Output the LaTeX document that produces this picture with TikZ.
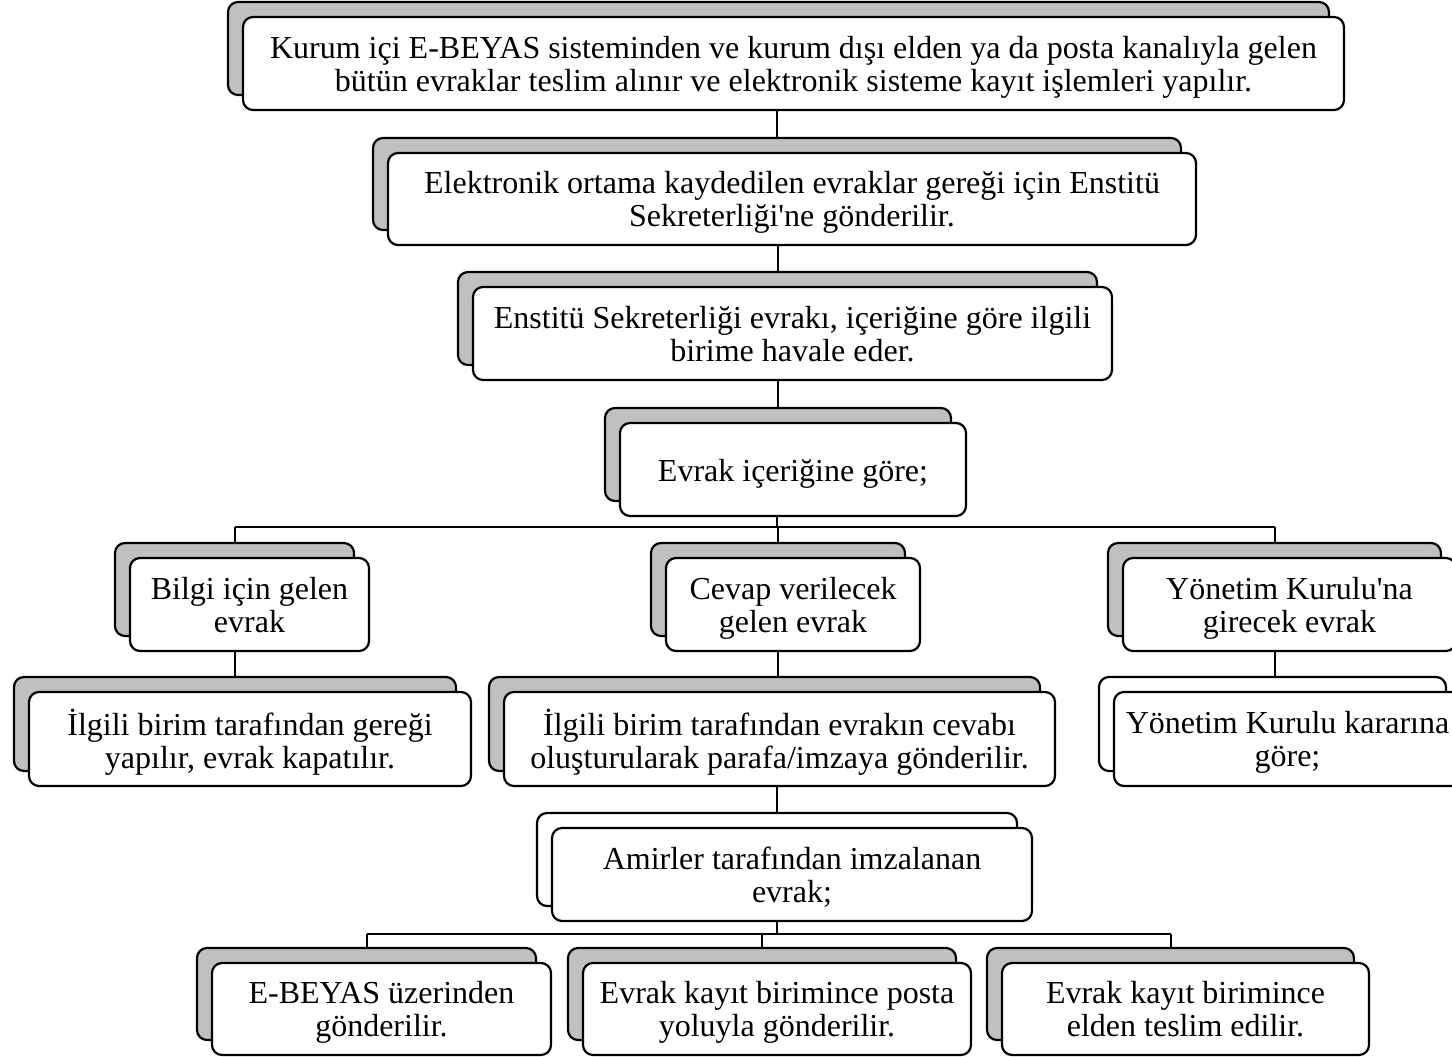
\documentclass[tikz,border=0pt]{standalone}
\usepackage{fontspec}
\setmainfont{Liberation Serif}
\definecolor{shadegray}{RGB}{192,192,192}
\tikzset{
  boxbase/.style={draw=black, line width=2.2pt, rounded corners=10pt, inner sep=0pt, outer sep=0pt},
  graysh/.style={boxbase, fill=shadegray},
  whitesh/.style={boxbase, fill=white},
  front/.style={boxbase, fill=white},
  txt/.style={align=center, inner sep=0pt, font=\fontsize{32}{33}\selectfont,
    execute at begin node=\strut, execute at end node=\strut},
  conn/.style={draw=black, line width=2pt}
}
\newcommand\boxpair[7]{%
  \node[#2, minimum width={#5-#3}, minimum height={#6-#4}] (#1S) at ({(#3+#5)/2-15},{(#4+#6)/2-15}) {};
  \node[front, minimum width={#5-#3}, minimum height={#6-#4}] (#1) at ({(#3+#5)/2},{(#4+#6)/2}) {};
  \node[txt] (#1T) at ([yshift=-5pt]#1.center) {#7};
}
\begin{document}
\begin{tikzpicture}[x=1pt,y=-1pt]
\useasboundingbox[fill=white] (0,0) rectangle (1452,1057);

\boxpair{top}{graysh}{243}{17}{1344}{110}{Kurum içi E-BEYAS sisteminden ve kurum dışı elden ya da posta kanalıyla gelen\\bütün evraklar teslim alınır ve elektronik sisteme kayıt işlemleri yapılır.}
\boxpair{elek}{graysh}{388}{153}{1196}{245}{Elektronik ortama kaydedilen evraklar gereği için Enstitü\\Sekreterliği\textquotesingle ne gönderilir.}
\boxpair{enst}{graysh}{473}{287}{1112}{380}{Enstitü Sekreterliği evrakı, içeriğine göre ilgili\\birime havale eder.}
\boxpair{evrak}{graysh}{620}{423}{966}{516}{Evrak içeriğine göre;}
\boxpair{bilgi}{graysh}{130}{558}{369}{651}{Bilgi için gelen\\evrak}
\boxpair{cevap}{graysh}{666}{558}{920}{651}{Cevap verilecek\\gelen evrak}
\boxpair{yon}{graysh}{1123}{558}{1456}{651}{Yönetim Kurulu\textquotesingle na\\girecek evrak}
\boxpair{ilga}{graysh}{29}{692}{471}{786}{İlgili birim tarafından gereği\\yapılır, evrak kapatılır.}
\boxpair{ilgb}{graysh}{504}{692}{1055}{786}{İlgili birim tarafından evrakın cevabı\\oluşturularak parafa/imzaya gönderilir.}
\boxpair{yonk}{whitesh}{1114}{692}{1461}{786}{Yönetim Kurulu kararına\\göre;}
\boxpair{amir}{whitesh}{552}{828}{1032}{921}{Amirler tarafından imzalanan\\evrak;}
\boxpair{ebey}{graysh}{212}{963}{551}{1055}{E-BEYAS üzerinden\\gönderilir.}
\boxpair{posta}{graysh}{583}{963}{971}{1055}{Evrak kayıt birimince posta\\yoluyla gönderilir.}
\boxpair{elden}{graysh}{1002}{963}{1369}{1055}{Evrak kayıt birimince\\elden teslim edilir.}

% vertical chain
\draw[conn] (top.south -| elekS.north) -- (elekS.north);
\draw[conn] (elek.south -| enstS.north) -- (enstS.north);
\draw[conn] (enst.south -| evrakS.north) -- (evrakS.north);

% first split
\coordinate (busA) at (777,527);
\draw[conn] (evrak.south -| busA) -- (busA);
\draw[conn] (busA -| bilgiS.north) -- (busA -| yonS.north);
\draw[conn] (busA -| bilgiS.north) -- (bilgiS.north);
\draw[conn] (busA -| cevapS.north) -- (cevapS.north);
\draw[conn] (busA -| yonS.north) -- (yonS.north);

% second level
\draw[conn] (bilgi.south -| bilgiS.south) -- (ilgaS.north -| bilgiS.south);
\draw[conn] (cevap.south -| cevapS.south) -- (ilgbS.north -| cevapS.south);
\draw[conn] (yon.south -| yonS.south) -- (yonkS.north -| yonS.south);
\draw[conn] (ilgb.south -| amirS.north) -- (amirS.north);

% bottom split
\coordinate (busB) at (777,934);
\draw[conn] (amir.south -| busB) -- (busB);
\draw[conn] (busB -| ebeyS.north) -- (busB -| eldenS.north);
\draw[conn] (busB -| ebeyS.north) -- (ebeyS.north);
\draw[conn] (busB -| postaS.north) -- (postaS.north);
\draw[conn] (busB -| eldenS.north) -- (eldenS.north);
\end{tikzpicture}
\end{document}
